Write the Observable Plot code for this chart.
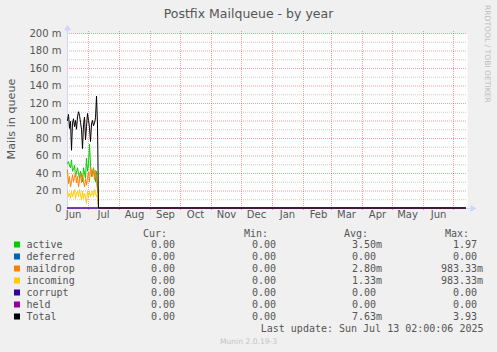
<!DOCTYPE html>
<html><head><meta charset="utf-8">
<script src="https://cdn.jsdelivr.net/npm/d3@7"></script>
<script src="https://cdn.jsdelivr.net/npm/@observablehq/plot@0.6"></script>
<style>
html,body{margin:0;padding:0;background:#f0f0f0;}
#wrap{position:relative;width:497px;height:352px;background:#f0f0f0;overflow:hidden;}
#plot{position:absolute;left:0;top:25px;}
#over{position:absolute;left:0;top:0;pointer-events:none;}
</style></head>
<body><div id="wrap"><div id="plot"></div><svg id="over" width="497" height="352"></svg></div>
<script>
// ---- data (values in milli-mails) ----
const dates = ["2024-06-10","2024-06-11","2024-06-12","2024-06-13","2024-06-14","2024-06-15","2024-06-16","2024-06-17","2024-06-18","2024-06-19","2024-06-20","2024-06-21","2024-06-22","2024-06-23","2024-06-24","2024-06-25","2024-06-26","2024-06-27","2024-06-28","2024-06-29","2024-06-30","2024-07-01","2024-07-02","2024-07-03","2024-07-04","2024-07-05","2024-07-06","2024-07-07","2024-07-08","2024-07-09","2024-07-10","2024-07-11","2025-07-13"];
const active   = [51,53,48,46,55,42,44,49,36,41,46,39,34,42,38,30,46,40,34,57,42,50,73,49,36,41,46,38,30,42,19,0,0];
const deferred = [0,0,0,0,0,0,0,0,0,0,0,0,0,0,0,0,0,0,0,0,0,0,0,0,0,0,0,0,0,0,0,0,0];
const maildrop = [43,28,36,24,30,38,30,35,40,29,36,24,32,40,29,38,31,24,33,26,35,41,30,47,40,36,45,32,43,33,23,0,0];
const incoming = [19,13,17,11,19,13,16,21,11,17,19,13,21,15,9,19,11,17,12,5,19,13,19,13,16,19,13,21,17,13,17,0,0];
const corrupt  = [0,0,0,0,0,0,0,0,0,0,0,0,0,0,0,0,0,0,0,0,0,0,0,0,0,0,0,0,0,0,0,0,0];
const held     = [0,0,0,0,0,0,0,0,0,0,0,0,0,0,0,0,0,0,0,0,0,0,0,0,0,0,0,0,0,0,0,0,0];
const total    = [100,107,91,99,66,97,102,93,100,90,104,110,106,98,90,68,95,104,78,93,108,100,92,76,96,100,94,97,103,128,95,0,0];

const seriesNames  = ["active","deferred","maildrop","incoming","corrupt","held","Total"];
const seriesColors = ["#00CC00","#0066B3","#FF8000","#FFCC00","#330099","#990099","#000000"];
const seriesValues = [active,deferred,maildrop,incoming,corrupt,held,total];

const legendCur = ["0.00","0.00","0.00","0.00","0.00","0.00","0.00"];
const legendMin = ["0.00","0.00","0.00","0.00","0.00","0.00","0.00"];
const legendAvg = ["3.50m","0.00","2.80m","1.33m","0.00","0.00","7.63m"];
const legendMax = ["1.97","0.00","983.33m","983.33m","0.00","0.00","3.93"];

const yMajor = [20,40,60,80,100,120,140,160,180,200];
const yMinor = [10,30,50,70,90,110,130,150,170,190];
const yLabels = [0,20,40,60,80,100,120,140,160,180,200];
const monthStarts = ["2024-07-01","2024-08-01","2024-09-01","2024-10-01","2024-11-01","2024-12-01","2025-01-01","2025-02-01","2025-03-01","2025-04-01","2025-05-01","2025-06-01","2025-07-01"];
const monthMids   = ["2024-06-16","2024-07-16","2024-08-16","2024-09-16","2024-10-16","2024-11-16","2024-12-16","2025-01-16","2025-02-16","2025-03-16","2025-04-16","2025-05-16","2025-06-16"];
const monthNames  = ["Jun","Jul","Aug","Sep","Oct","Nov","Dec","Jan","Feb","Mar","Apr","May","Jun"];
const xStart = "2024-06-10", xEnd = "2025-07-15";

const title = "Postfix Mailqueue - by year";
const yTitle = "Mails in queue";
const watermark = "RRDTOOL / TOBI OETIKER";
const lastUpdate = "Last update: Sun Jul 13 02:00:06 2025";
const footer = "Munin 2.0.19-3";

// ---- build ----
const P = d => new Date(d + "T00:00:00Z");
const rows = [];
seriesNames.forEach((s, k) => seriesValues[k].forEach((v, i) => rows.push({series: s, date: P(dates[i]), value: v})));
const months = monthMids.map((d, i) => ({date: P(d), label: monthNames[i]}));
const AXIS = "#CFD6F8";

const marks = [
  Plot.frame({fill: "white", stroke: "none"}),
  Plot.ruleY(yMinor, {y: d => d, stroke: "#999999", strokeOpacity: 0.5, strokeDasharray: "1,1"}),
  Plot.ruleY(yMajor, {y: d => d, stroke: "#ff0000", strokeOpacity: 0.38, strokeDasharray: "1,1"}),
  Plot.ruleX(monthStarts, {x: d => P(d), stroke: "#ff0000", strokeOpacity: 0.38, strokeDasharray: "1,1", insetTop: -2, insetBottom: -3}),
  Plot.ruleX([P(xStart)], {x: d => d, stroke: AXIS, insetTop: -3}),
  Plot.ruleY([0], {y: d => d, stroke: AXIS, insetRight: -3}),
  Plot.dot([P(xStart)], {x: d => d, y: () => 200, symbol: "triangle", r: 2.6, fill: AXIS, stroke: "none", dy: -5}),
  Plot.dot([P(xEnd)], {x: d => d, y: () => 0, symbol: "triangle", r: 2.6, fill: AXIS, stroke: "none", rotate: 90, dx: 5}),
];
seriesNames.forEach((s, k) => {
  marks.push(Plot.line(rows.filter(r => r.series === s), {x: "date", y: "value", stroke: seriesColors[k], strokeWidth: 1, dy: -0.5}));
});
marks.push(Plot.axisY(yLabels, {tickSize: 0, tickPadding: 6, tickFormat: d => d === 0 ? "0" : d + " m", fill: "#555", fontSize: 10, label: null}));
marks.push(Plot.text(months, {x: "date", text: "label", frameAnchor: "bottom", dy: 9, fill: "#555", fontSize: 10}));

const chart = Plot.plot({
  width: 497, height: 200,
  marginLeft: 67, marginRight: 30, marginTop: 8, marginBottom: 17,
  style: {background: "transparent", fontFamily: "DejaVu Sans", fontSize: "10px", color: "#555"},
  x: {type: "utc", domain: [P(xStart), P(xEnd)], axis: null},
  y: {domain: [0, 200], axis: null},
  marks
});
document.getElementById("plot").appendChild(chart);

// ---- overlay texts ----
const o = d3.select("#over");
o.append("text").attr("x", 248.5).attr("y", 13).attr("text-anchor", "middle").attr("dominant-baseline", "central")
  .attr("font-family", "DejaVu Sans").attr("font-size", 12.5).attr("fill", "#555").text(title);
o.append("text").attr("transform", "translate(11.5,119) rotate(-90)").attr("text-anchor", "middle").attr("dominant-baseline", "central")
  .attr("font-family", "DejaVu Sans").attr("font-size", 11.2).attr("fill", "#555").text(yTitle);
o.append("text").attr("transform", "translate(487.5,5) rotate(90)").attr("text-anchor", "start").attr("dominant-baseline", "central")
  .attr("font-family", "DejaVu Sans").attr("font-size", 7.6).attr("fill", "#bdbdbd").text(watermark);

const mono = "DejaVu Sans Mono";
const hdrY = 233;
[["Cur:", 167], ["Min:", 268], ["Avg:", 368], ["Max:", 469]].forEach(([t, x]) => {
  o.append("text").attr("x", x).attr("y", hdrY).attr("text-anchor", "end").attr("dominant-baseline", "central")
    .attr("font-family", mono).attr("font-size", 10).attr("fill", "#555").text(t);
});
const colX = [175, 276, 376, 477];
seriesNames.forEach((s, k) => {
  const y = 244.5 + k * 12;
  o.append("rect").attr("x", 14).attr("y", y - 3).attr("width", 6).attr("height", 6).attr("fill", seriesColors[k]);
  o.append("text").attr("x", 26.5).attr("y", y).attr("dominant-baseline", "central")
    .attr("font-family", mono).attr("font-size", 10).attr("fill", "#555").text(s);
  [legendCur[k], legendMin[k], legendAvg[k], legendMax[k]].forEach((v, j) => {
    const hasM = v.endsWith("m");
    const num = hasM ? v.slice(0, -1) : v;
    o.append("text").attr("x", colX[j]).attr("y", y).attr("text-anchor", "end").attr("dominant-baseline", "central")
      .attr("font-family", mono).attr("font-size", 10).attr("fill", "#555").text(num);
    if (hasM) o.append("text").attr("x", colX[j]).attr("y", y).attr("dominant-baseline", "central")
      .attr("font-family", mono).attr("font-size", 10).attr("fill", "#555").text("m");
  });
});
o.append("text").attr("x", 483.5).attr("y", 328.5).attr("text-anchor", "end").attr("dominant-baseline", "central")
  .attr("font-family", mono).attr("font-size", 10).attr("fill", "#555").text(lastUpdate);
o.append("text").attr("x", 248.5).attr("y", 341).attr("text-anchor", "middle").attr("dominant-baseline", "central")
  .attr("font-family", "DejaVu Sans").attr("font-size", 7.6).attr("fill", "#c4c4c4").text(footer);
</script></body></html>
